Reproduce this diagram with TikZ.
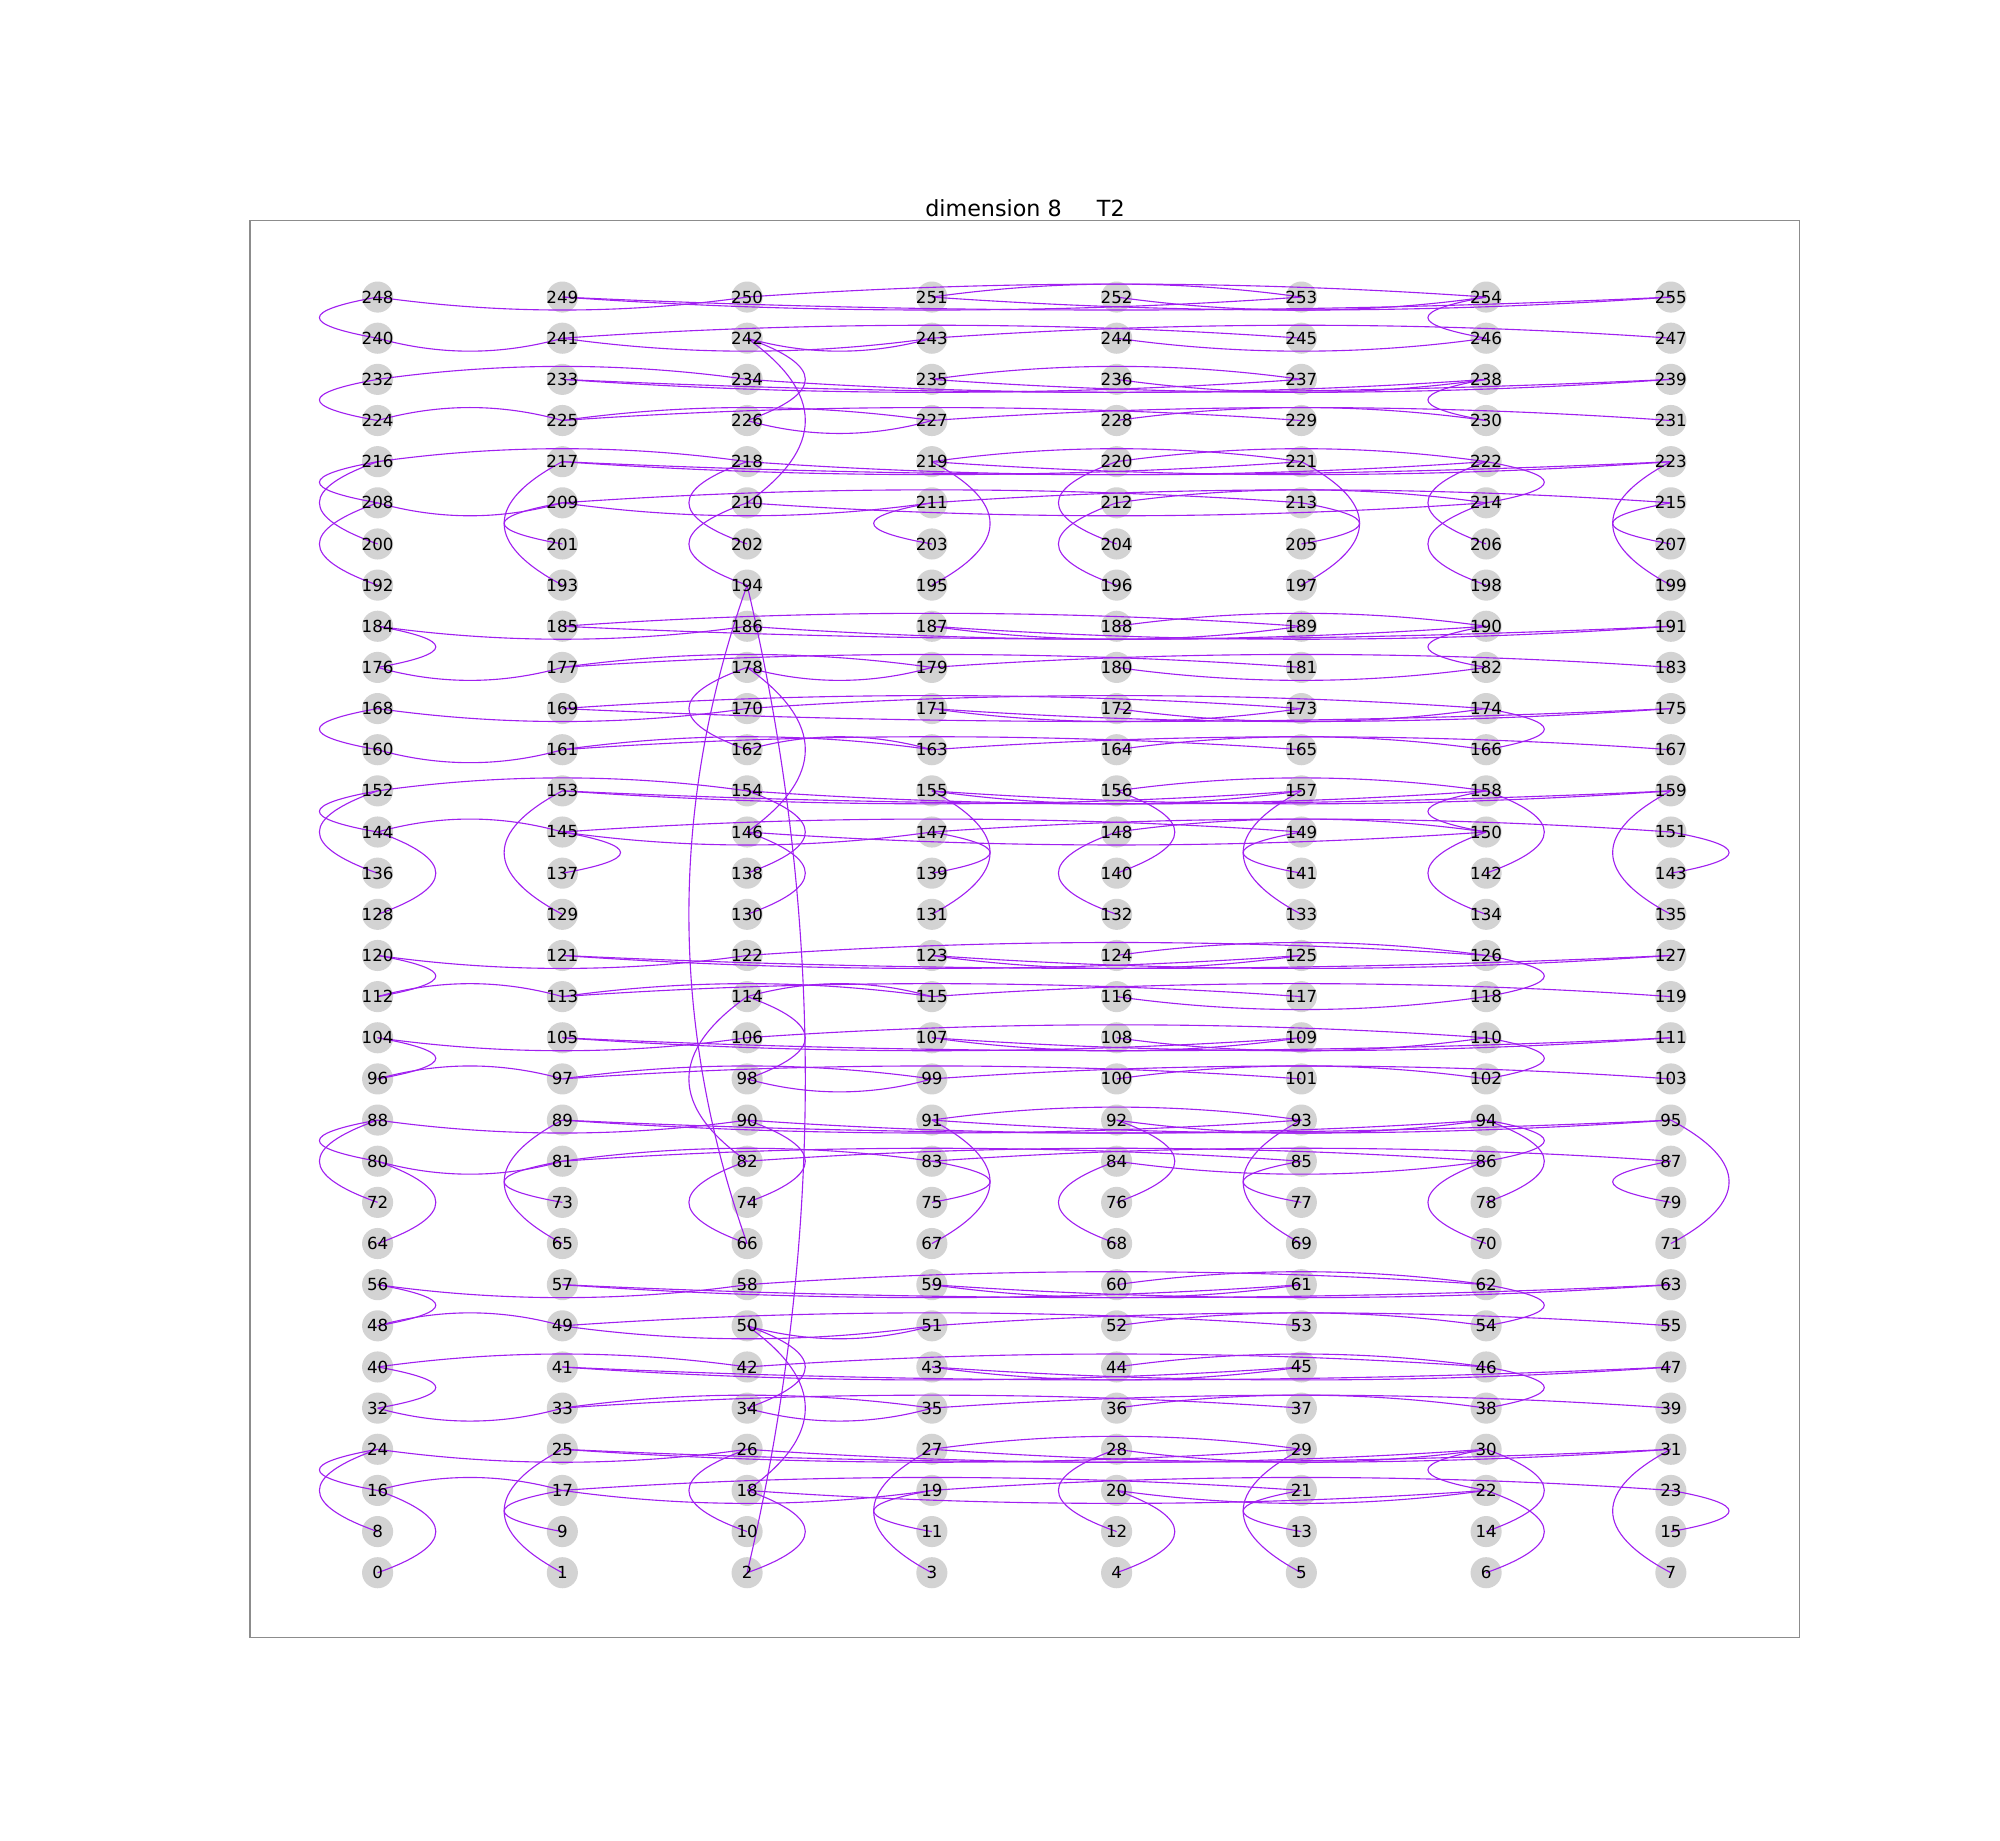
\documentclass[tikz,border=0pt]{standalone}
\usepackage{fontspec}
\setmainfont{DejaVu Sans}
\usetikzlibrary{calc}
\definecolor{edgec}{HTML}{A020F0}
\definecolor{nodec}{HTML}{D3D3D3}
\definecolor{framec}{HTML}{8C8C8C}
\newcommand\graphedge[2]{%
  \pgfmathsetmacro\gcu{mod(#1,8)}%
  \pgfmathsetmacro\gru{floor(#1/8)}%
  \pgfmathsetmacro\gcv{mod(#2,8)}%
  \pgfmathsetmacro\grv{floor(#2/8)}%
  \pgfmathsetmacro\gdc{\gcv-\gcu}%
  \pgfmathsetmacro\gdr{\grv-\gru}%
  \pgfmathsetmacro\gL{sqrt(\gdc*\gdc+\gdr*\gdr)}%
  \pgfmathsetmacro\gox{116.4*\gdr/\gL}%
  \pgfmathsetmacro\goy{25.92*\gdc/\gL}%
  \coordinate (q) at ($(n#1.center)!0.5!(n#2.center)+(\gox,\goy)$);%
  \draw[edgeline] (n#1.center) .. controls ($(n#1.center)!0.6667!(q)$) and ($(n#2.center)!0.6667!(q)$) .. (n#2.center);%
}
\begin{document}
\begin{tikzpicture}[x=0.72bp,y=-0.72bp,
  vert/.style={circle,fill=nodec,minimum size=22.4bp,inner sep=0pt},
  edgeline/.style={draw=edgec,line width=0.8bp},
  lab/.style={font=\fontsize{12bp}{14bp}\selectfont,text=black,inner sep=0pt},
  ttl/.style={font=\fontsize{16bp}{19bp}\selectfont,text=black,inner sep=0pt}]
\useasboundingbox (0,0) rectangle (2000,1840);
\draw[framec,line width=0.8bp] (250,220.7) rectangle (1799.7,1637.7);
\node[ttl,anchor=base] (title) at (1025,216.5) {dimension 8\hspace{1.59em}T2};
\foreach \n in {0,...,255}{
  \node[vert] (n\n) at ({377.6+184.75*mod(\n,8)},{1572.7-41.15*floor(\n/8)}) {};
}
% rows 0-1 to rows 2-3 in A blocks
\foreach \u/\v in {0/16,24/8,25/1,17/9,2/18,26/10,27/3,19/11,4/20,28/12,29/5,21/13,6/22,14/30,31/7,15/23,
  64/80,88/72,89/65,81/73,82/66,74/90,67/91,75/83,84/68,76/92,93/69,85/77,86/70,78/94,71/95,87/79,
  128/144,152/136,153/129,137/145,130/146,138/154,131/155,139/147,148/132,140/156,157/133,149/141,150/134,142/158,159/135,143/151,
  208/192,216/200,217/193,209/201,210/194,218/202,195/219,211/203,212/196,220/204,197/221,205/213,214/198,222/206,223/199,215/207}
  {\graphedge{\u}{\v}}
% links
\foreach \u/\v in {2/194,194/66,18/50,34/50,114/82,98/114,146/178,178/162,210/242,226/242}
  {\graphedge{\u}{\v}}
% pattern copies
\foreach \u/\v in {24/16,30/22,17/16,17/19,21/17,18/22,23/19,20/22,24/26,25/29,25/31,26/30,29/27,27/31,28/30,
  88/80,86/94,80/81,83/81,85/81,86/82,87/83,84/86,88/90,89/93,89/95,90/94,93/91,91/95,92/94,
  152/144,158/150,145/144,145/147,149/145,146/150,151/147,150/148,154/152,153/157,153/159,154/158,155/157,155/159,158/156,
  216/208,214/222,208/209,209/211,213/209,210/214,215/211,214/212,218/216,217/221,217/223,218/222,221/219,219/223,222/220}
  {\graphedge{\u}{\v}}
\foreach \u/\v in {32/40,38/46,32/33,35/33,37/33,34/35,39/35,38/36,42/40,41/45,41/47,46/42,43/45,43/47,46/44,
  48/56,54/62,49/48,49/51,53/49,50/51,55/51,54/52,56/58,57/61,57/63,62/58,59/61,59/63,62/60,
  96/104,102/110,97/96,99/97,101/97,98/99,103/99,102/100,104/106,105/109,105/111,110/106,107/109,107/111,108/110,
  112/120,118/126,113/112,115/113,117/113,115/114,119/115,116/118,120/122,121/125,121/127,126/122,123/125,123/127,126/124}
  {\graphedge{\u}{\v}}
\foreach \u/\v in {168/160,166/174,160/161,163/161,165/161,163/162,167/163,166/164,168/170,173/169,169/175,174/170,171/173,171/175,172/174,
  176/184,190/182,176/177,179/177,181/177,178/179,183/179,180/182,184/186,189/185,185/191,186/190,187/189,187/191,190/188,
  232/224,238/230,225/224,227/225,229/225,226/227,231/227,230/228,234/232,233/237,233/239,234/238,237/235,235/239,236/238,
  248/240,254/246,240/241,241/243,245/241,242/243,247/243,244/246,248/250,249/253,249/255,254/250,253/251,251/255,252/254}
  {\graphedge{\u}{\v}}
\foreach \n in {0,...,255}{
  \node[lab] (l\n) at (n\n.center) {\n};
}
\end{tikzpicture}
\end{document}
